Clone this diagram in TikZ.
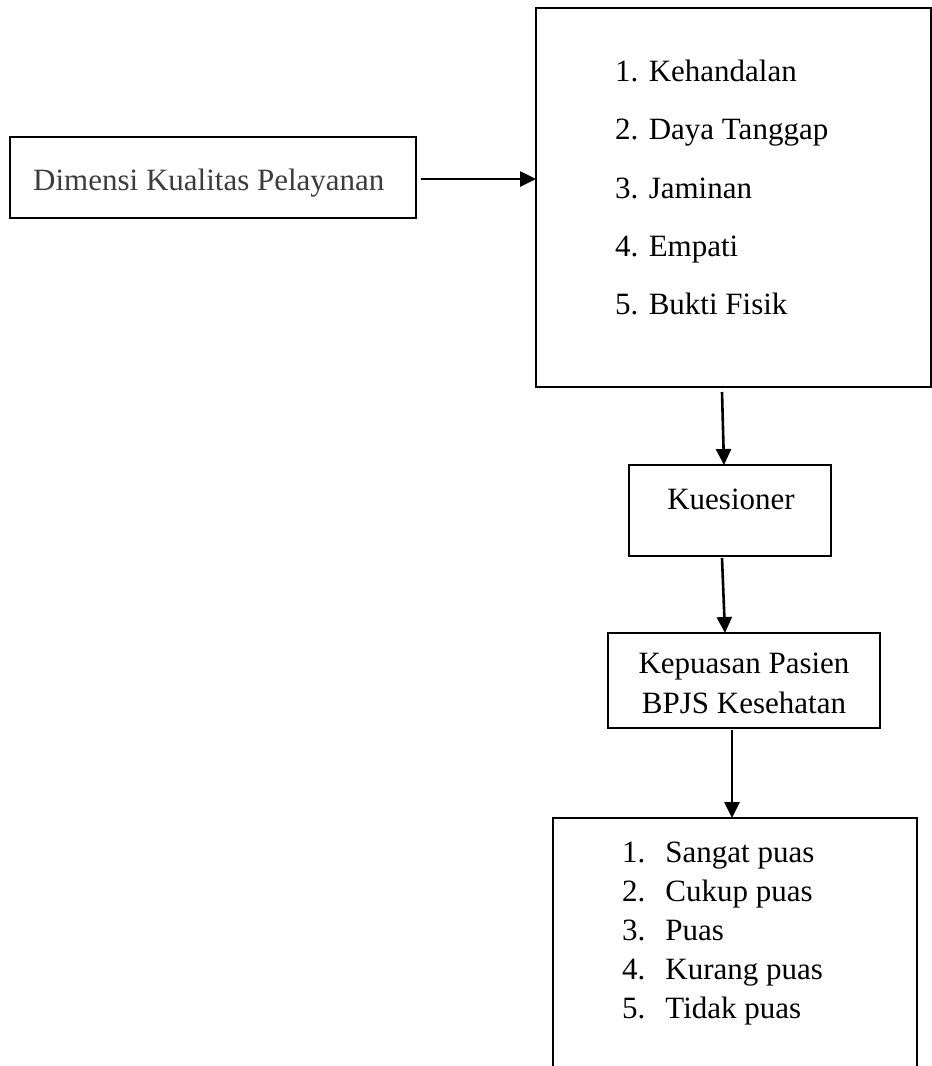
\documentclass[tikz,border=0pt]{standalone}
\usepackage{fontspec}
\setmainfont{Liberation Serif}
\usetikzlibrary{arrows.meta}
\definecolor{dimgraytext}{HTML}{3C3C3C}
\begin{document}
\begin{tikzpicture}[x=1pt,y=-1pt,
  boxshape/.style={draw=black, line width=2.6pt, rectangle, inner sep=0pt, outer sep=0pt, anchor=north west},
  txt/.style={inner sep=0pt, anchor=base west, font=\fontsize{31}{38}\selectfont},
  arr/.style={draw=black, line width=2.6pt, -{Triangle[length=16pt,width=15pt]}}
]
\clip (0,0) rectangle (932,1066);
\useasboundingbox (0,0) rectangle (932,1066);

% boxes
\node[boxshape, minimum width=406pt, minimum height=81pt] (dim) at (10,137) {};
\node[boxshape, minimum width=395pt, minimum height=379pt] (dims) at (536,8) {};
\node[boxshape, minimum width=202pt, minimum height=91pt] (kues) at (629,465) {};
\node[boxshape, minimum width=272pt, minimum height=95pt] (kep) at (608,633) {};
\node[boxshape, minimum width=364pt, minimum height=280pt] (res) at (553,818) {};

% texts
\node[txt, text=dimgraytext] (tdim) at (33,190) {Dimensi Kualitas Pelayanan};

\node[txt] (d1) at (615,81) {1. Kehandalan};
\node[txt] (d2) at (615,139) {2. Daya Tanggap};
\node[txt] (d3) at (615,198) {3. Jaminan};
\node[txt] (d4) at (615,256) {4. Empati};
\node[txt] (d5) at (615,314) {5. Bukti Fisik};

\node[txt, anchor=base] (tk) at (731,509) {Kuesioner};
\node[txt, anchor=base] (tk1) at (744,673) {Kepuasan Pasien};
\node[txt, anchor=base] (tk2) at (744,713) {BPJS Kesehatan};

\node[txt] (r1) at (622,862) {1.\hspace{20pt}Sangat puas};
\node[txt] (r2) at (622,901) {2.\hspace{20pt}Cukup puas};
\node[txt] (r3) at (622,940) {3.\hspace{20pt}Puas};
\node[txt] (r4) at (622,979) {4.\hspace{20pt}Kurang puas};
\node[txt] (r5) at (622,1018) {5.\hspace{20pt}Tidak puas};

% connectors
\coordinate (a1) at ([xshift=5pt,yshift=-1.5pt]dim.east);
\draw[arr] (a1) -- (a1 -| dims.west);
\draw[arr] ([xshift=-11.5pt,yshift=-5pt]dims.south) -- ([xshift=-6pt]kues.north);
\draw[arr] ([xshift=-8pt,yshift=-2pt]kues.south) -- ([xshift=-19pt]kep.north);
\draw[arr] ([xshift=-12pt,yshift=-2pt]kep.south) -- ([xshift=-3pt]res.north);
\end{tikzpicture}
\end{document}
